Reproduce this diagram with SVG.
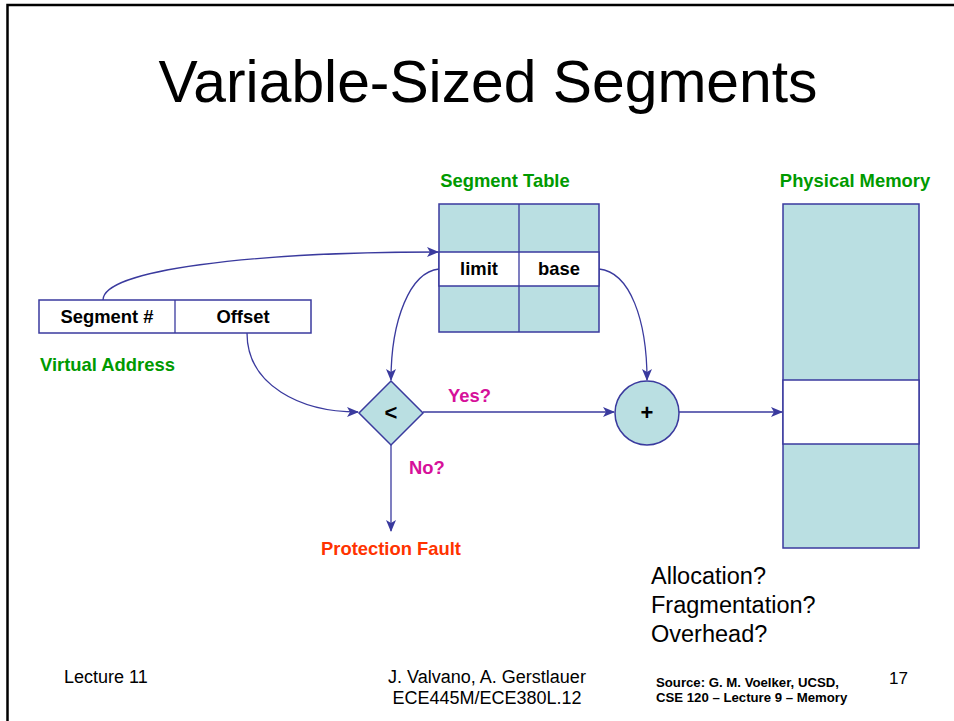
<svg xmlns="http://www.w3.org/2000/svg" width="954" height="721" viewBox="0 0 954 721">
<defs>
<marker id="arr" viewBox="0 0 12 10" refX="11" refY="5" markerWidth="12" markerHeight="10" markerUnits="userSpaceOnUse" orient="auto">
<path d="M0,0 L12,5 L0,10 L3,5 Z" fill="#3a3a9e"/>
</marker>
</defs>
<style>
.ln{fill:none;stroke:#3a3a9e;stroke-width:1.3}
.box{fill:#badfe2;stroke:#3a3a9e;stroke-width:1.5}
.wb{fill:#ffffff;stroke:#3a3a9e;stroke-width:1.5}
.b{font-family:"Liberation Sans",Arial,sans-serif;font-weight:bold;font-size:18.4px}
.big{font-size:22px}
.r{font-family:"Liberation Sans",Arial,sans-serif}
.g{fill:#009a00}
.m{fill:#d6109a}
.o{fill:#ff3300}
</style>
<rect width="954" height="721" fill="#ffffff"/>
<path d="M7.5,721 V5 H954" fill="none" stroke="#000" stroke-width="2.5"/>
<text x="488" y="102" text-anchor="middle" class="r" font-size="58.5" textLength="659" lengthAdjust="spacingAndGlyphs">Variable-Sized Segments</text>

<g id="connectors">
<path class="ln" d="M103,300 C103,270 250,252 438,252" marker-end="url(#arr)"/>
<path class="ln" d="M439,269 C410,272 391,320 391,380" marker-end="url(#arr)"/>
<path class="ln" d="M599,269 C630,272 647,320 647,380" marker-end="url(#arr)"/>
<path class="ln" d="M247,333 C247,385 300,412 358,412" marker-end="url(#arr)"/>
<path class="ln" d="M423,412 H614" marker-end="url(#arr)"/>
<path class="ln" d="M679,412 H782" marker-end="url(#arr)"/>
<path class="ln" d="M391,445 V531" marker-end="url(#arr)"/>
</g>

<g id="segment-table">
<text x="505" y="187" text-anchor="middle" class="b g">Segment Table</text>
<rect class="box" x="439" y="204" width="160" height="128"/>
<rect class="wb" x="439" y="252" width="160" height="34"/>
<line class="ln" x1="519" y1="204" x2="519" y2="332" stroke-width="1.5"/>
<text x="479" y="275" text-anchor="middle" class="b">limit</text>
<text x="559" y="275" text-anchor="middle" class="b">base</text>
</g>

<g id="physical-memory">
<text x="855" y="187" text-anchor="middle" class="b g">Physical Memory</text>
<rect class="box" x="783" y="204" width="136" height="344"/>
<rect class="wb" x="783" y="380" width="136" height="64"/>
</g>

<g id="virtual-address">
<rect class="wb" x="39" y="300" width="272" height="33"/>
<line class="ln" x1="175" y1="300" x2="175" y2="333" stroke-width="1.5"/>
<text x="107" y="323" text-anchor="middle" class="b">Segment #</text>
<text x="243" y="323" text-anchor="middle" class="b">Offset</text>
<text x="40" y="371" class="b g">Virtual Address</text>
</g>

<g id="compare">
<polygon class="box" points="391,381 423,413 391,445 359,413"/>
<text x="391" y="420" text-anchor="middle" class="b big">&lt;</text>
</g>

<g id="adder">
<circle class="box" cx="647" cy="413" r="32"/>
<text x="647" y="420" text-anchor="middle" class="b big">+</text>
</g>

<g id="labels">
<text x="448" y="402" class="b m">Yes?</text>
<text x="409" y="474" class="b m">No?</text>
<text x="391" y="555" text-anchor="middle" class="b o">Protection Fault</text>
</g>

<g id="notes" class="r">
<text x="651" y="584" font-size="23.5">Allocation?</text>
<text x="651" y="613" font-size="23.5">Fragmentation?</text>
<text x="651" y="642" font-size="23.5">Overhead?</text>
<text x="64" y="683" font-size="18">Lecture 11</text>
<text x="487" y="683" font-size="18" text-anchor="middle">J. Valvano, A. Gerstlauer</text>
<text x="487" y="704" font-size="18" text-anchor="middle">ECE445M/ECE380L.12</text>
<text x="889" y="684" font-size="17">17</text>
<text x="656" y="687" font-size="13.2" font-weight="bold">Source: G. M. Voelker, UCSD,</text>
<text x="656" y="702" font-size="13.2" font-weight="bold">CSE 120 – Lecture 9 – Memory</text>
</g>
</svg>
